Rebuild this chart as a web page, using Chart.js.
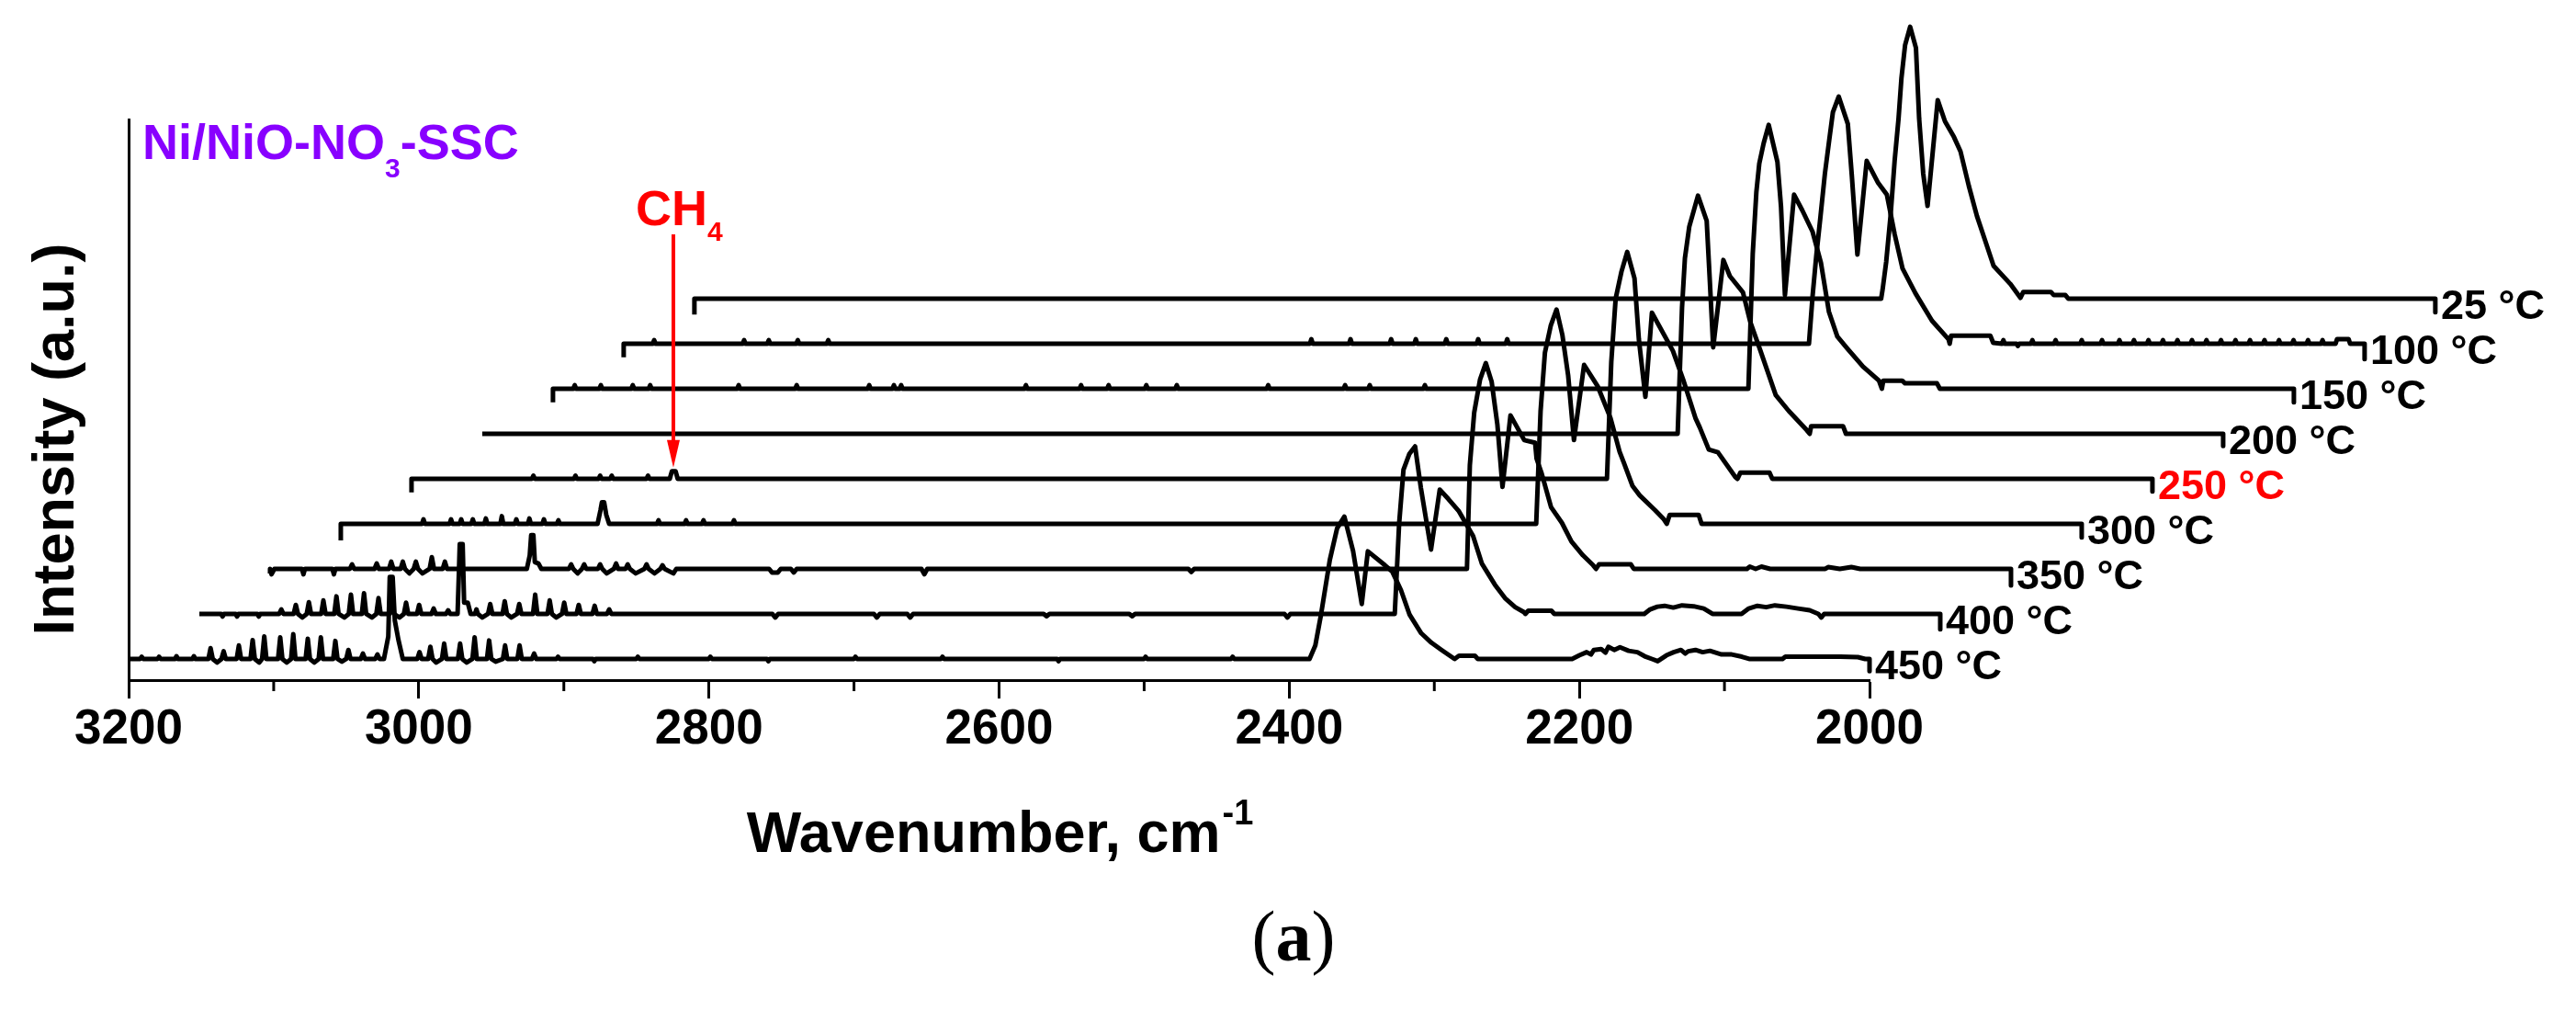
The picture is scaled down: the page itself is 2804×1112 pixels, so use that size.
<!DOCTYPE html>
<html>
<head>
<meta charset="utf-8">
<script src="https://cdn.jsdelivr.net/npm/chart.js@4.4.0/dist/chart.umd.min.js"></script>
<style>
  body { margin: 0; background: #fff; }
  canvas { display: block; }
</style>
</head>
<body>
<canvas id="chart" width="2804" height="1112"></canvas>
<script>
// labels, bottom spectrum first
const temps = ["450 °C", "400 °C", "350 °C", "300 °C", "250 °C", "200 °C", "150 °C", "100 °C", "25 °C"];
const majorTicks = [3200, 3000, 2800, 2600, 2400, 2200, 2000];
const minorTicks = [3100, 2900, 2700, 2500, 2300, 2100];

// stacking offsets of the waterfall (cm-1 and a.u. per step)
const xStep = 48.75;
const yStep = 1;
const ch4Q = 3019.5;

// [wavenumber, intensity]
const spec450 = [
  [3200, 0], [3192, 0], [3191, 0.05], [3190, 0], [3180, 0], [3179, 0.05], [3178, 0], [3168, 0], [3167, 0.06], [3166, 0],
  [3156, 0], [3155, 0.06], [3154, 0], [3145, 0], [3143.5, 0.24], [3142, 0], [3139, -0.08], [3136, 0], [3134.5, 0.17], [3133, 0],
  [3125.5, 0], [3124, 0.3], [3122.5, 0], [3116, 0], [3114.5, 0.42], [3113, 0], [3110, -0.08], [3108, 0], [3106.5, 0.5], [3105, 0],
  [3097, 0], [3095.5, 0.48], [3094, 0], [3091, -0.08], [3088, 0], [3086.5, 0.55], [3085, 0], [3078, 0], [3076.5, 0.45], [3075, 0],
  [3072, -0.08], [3069, 0], [3067.5, 0.48], [3066, 0], [3059, 0], [3057.5, 0.4], [3056, 0], [3053, -0.06], [3050, 0], [3048.5, 0.2],
  [3047, 0], [3040, 0], [3038.5, 0.12], [3037, 0], [3030, 0], [3028.5, 0.1], [3027, 0],
  [3024, 0], [3021, 0.5], [3020, 1.82], [3018, 1.82], [3016.5, 0.85], [3014, 0.42], [3011, 0],
  [3001, 0], [2999.5, 0.15], [2998, 0], [2993.5, 0], [2992, 0.27], [2990.5, 0], [2988, -0.08], [2984, 0], [2982.5, 0.34], [2981, 0],
  [2973, 0], [2971.5, 0.34], [2970, 0], [2967, -0.08], [2963, 0], [2961.5, 0.48], [2960, 0], [2953, 0], [2951.5, 0.41], [2950, 0],
  [2947, -0.06], [2942, 0], [2940.5, 0.3], [2939, 0], [2932, 0], [2930.5, 0.3], [2929, 0], [2922, 0], [2920.5, 0.12], [2919, 0],
  [2905, 0], [2904, 0.05], [2903, 0], [2880, 0], [2879, -0.05], [2878, 0], [2850, 0], [2849, 0.05], [2848, 0],
  [2800, 0], [2799, 0.05], [2798, 0], [2760, 0], [2759, -0.05], [2758, 0], [2700, 0], [2699, 0.05], [2698, 0],
  [2640, 0], [2639, 0.05], [2638, 0], [2560, 0], [2559, -0.05], [2558, 0], [2500, 0], [2499, 0.05], [2498, 0],
  [2440, 0], [2439, 0.05], [2438, 0],
  [2386, 0], [2382, 0.3], [2378, 1.0], [2372, 2.2], [2367, 2.9], [2362, 3.16], [2356, 2.4], [2350, 1.22], [2345.8, 2.39],
  [2334, 2.08], [2329, 1.94], [2323, 1.53], [2317, 0.98], [2309, 0.57], [2302, 0.36], [2295, 0.2], [2286, 0],
  [2283, 0.07], [2272, 0.07], [2270, 0],
  [2205, 0], [2200, 0.08], [2195, 0.15], [2192, 0.1], [2190, 0.2], [2185, 0.22], [2182, 0.14], [2180, 0.27], [2176, 0.2],
  [2172, 0.26], [2166, 0.18], [2160, 0.15], [2155, 0.06], [2150, 0], [2146, -0.05], [2140, 0.08], [2135, 0.15], [2130, 0.2],
  [2127, 0.12], [2125, 0.17], [2120, 0.2], [2115, 0.15], [2110, 0.18], [2102, 0.1], [2095, 0.1], [2088, 0.05], [2083, 0],
  [2060, 0], [2058, 0.05], [2040, 0.05], [2020, 0.05], [2008, 0.04], [2003, 0], [2000, 0], [2000, -0.27]
];

const spec400 = [
  [3200, 0], [3185, 0], [3184, -0.06], [3183, 0], [3175, 0], [3174, -0.06], [3173, 0], [3160, 0], [3159, -0.06], [3158, 0],
  [3145, 0], [3143.5, 0.1], [3142, 0], [3135, 0], [3133.5, 0.2], [3132, 0], [3129, -0.08], [3126, 0], [3124.5, 0.26], [3123, 0],
  [3116, 0], [3114.5, 0.3], [3113, 0], [3107, 0], [3105.5, 0.39], [3104, 0], [3100, -0.08], [3097, 0], [3095.5, 0.43], [3094, 0],
  [3088, 0], [3086.5, 0.46], [3085, 0], [3081, -0.08], [3078, 0], [3076.5, 0.35], [3075, 0], [3069, 0], [3067.5, 0.3], [3066, 0],
  [3062, -0.08], [3059, 0], [3057.5, 0.25], [3056, 0], [3050, 0], [3048.5, 0.2], [3047, 0], [3040, 0], [3038.5, 0.12], [3037, 0],
  [3030, 0], [3028.5, 0.08], [3027, 0],
  [3022, 0], [3021, 1.0], [3020.5, 1.55], [3018.5, 1.55], [3017.5, 0.25], [3015, 0.25], [3013, 0],
  [3010, 0], [3009, 0.1], [3008, 0], [3005, -0.08], [3001, 0], [2999.5, 0.22], [2998, 0], [2991, 0], [2989.5, 0.28], [2988, 0],
  [2985, -0.08], [2981, 0], [2979.5, 0.22], [2978, 0], [2970, 0], [2968.5, 0.43], [2967, 0], [2960, 0], [2958.5, 0.3], [2957, 0],
  [2954, -0.08], [2950, 0], [2948.5, 0.25], [2947, 0], [2940, 0], [2938.5, 0.2], [2937, 0], [2929, 0], [2927.5, 0.18], [2926, 0],
  [2919, 0], [2917.5, 0.1], [2916, 0],
  [2805, 0], [2803, -0.08], [2801, 0], [2735, 0], [2733, -0.08], [2731, 0], [2712, 0], [2710, -0.08], [2708, 0],
  [2618, 0], [2616, -0.05], [2614, 0], [2559, 0], [2557, -0.05], [2555, 0], [2452, 0], [2450, -0.08], [2448, 0],
  [2376, 0], [2373, 2.0], [2370, 3.2], [2366, 3.55], [2362, 3.72], [2358, 2.8], [2351, 1.43], [2345, 2.76], [2339, 2.55],
  [2332, 2.29], [2322, 1.73], [2316, 1.12], [2307, 0.65], [2300, 0.35], [2293, 0.15], [2287, 0.04], [2286, 0],
  [2284, 0.07], [2268, 0.07], [2266, 0],
  [2204, 0], [2200, 0.1], [2195, 0.16], [2190, 0.18], [2184, 0.14], [2178, 0.19], [2170, 0.17], [2163, 0.12], [2157, 0],
  [2137, 0], [2132, 0.12], [2126, 0.18], [2120, 0.15], [2114, 0.19], [2106, 0.16], [2098, 0.12], [2090, 0.08], [2084, 0],
  [2082, -0.08], [2080, 0], [2000, 0], [2000, -0.34]
];

const spec350 = [
  [3200, -0.1], [3200, 0], [3199, -0.12], [3197, 0], [3178, 0], [3177, -0.12], [3176, 0], [3157, 0], [3156, -0.12], [3155, 0],
  [3145, 0], [3143.5, 0.1], [3142, 0], [3128, 0], [3126.5, 0.12], [3125, 0], [3118, 0], [3116.5, 0.16], [3115, 0],
  [3110, 0], [3108.5, 0.16], [3107, 0], [3104, -0.1], [3101, 0], [3099.5, 0.16], [3098, 0], [3095, -0.1], [3090, 0],
  [3088.5, 0.26], [3087, 0], [3081, 0], [3079.5, 0.16], [3078, 0],
  [3023, 0], [3021, 0.3], [3020, 0.75], [3018.5, 0.75], [3017.5, 0.15], [3015, 0.12], [3013, 0],
  [2994, 0], [2992.5, 0.1], [2991, 0], [2988, -0.1], [2985, 0], [2983.5, 0.1], [2982, 0], [2974, 0], [2972.5, 0.1], [2971, 0],
  [2968, -0.1], [2963, 0], [2961.5, 0.12], [2960, 0], [2955, 0], [2953.5, 0.1], [2952, 0], [2948, -0.1], [2942, 0],
  [2940.5, 0.1], [2939, 0], [2935, -0.1], [2931, 0], [2929.5, 0.08], [2928, 0], [2922, -0.1], [2920, 0],
  [2856, 0], [2854, -0.08], [2850, -0.08], [2848, 0], [2841, 0], [2839, -0.08], [2837, 0],
  [2751, 0], [2749, -0.12], [2747, 0], [2567, 0], [2565, -0.07], [2563, 0],
  [2375, 0], [2373, 2.3], [2370, 3.47], [2366, 4.2], [2362, 4.57], [2358, 4.16], [2354, 3.2], [2350.5, 1.82], [2345, 3.41],
  [2335.5, 2.86], [2328, 2.8], [2327, 2.45], [2323.5, 2.12], [2317, 1.37], [2309.5, 1.02], [2303, 0.61], [2295, 0.3],
  [2288, 0.08], [2286, 0], [2284, 0.1], [2262, 0.1], [2260, 0],
  [2182, 0], [2180, 0.05], [2176, 0], [2172, 0.05], [2166, 0], [2128, 0], [2126, 0.04], [2118, 0], [2110, 0.04], [2104, 0],
  [2000, 0], [2000, -0.37]
];

const spec300 = [
  [3200, -0.37], [3200, 0], [3144, 0], [3143, 0.1], [3142, 0], [3125, 0], [3124, 0.1], [3123, 0], [3118, 0], [3117, 0.1], [3116, 0],
  [3110, 0], [3109, 0.1], [3108, 0], [3101, 0], [3100, 0.12], [3099, 0], [3090, 0], [3089, 0.17], [3088, 0],
  [3080, 0], [3079, 0.1], [3078, 0], [3071, 0], [3070, 0.12], [3069, 0], [3061, 0], [3060, 0.1], [3059, 0], [3051, 0], [3050, 0.08], [3049, 0],
  [3023, 0], [3021, 0.3], [3020, 0.48], [3018.5, 0.48], [3017, 0.2], [3015, 0],
  [2982, 0], [2981, 0.08], [2980, 0], [2963, 0], [2962, 0.08], [2961, 0], [2951, 0], [2950, 0.08], [2949, 0],
  [2930, 0], [2929, 0.08], [2928, 0],
  [2376, 0], [2373, 2.5], [2370, 3.8], [2366, 4.4], [2362, 4.76], [2358, 4.2], [2354, 3.3], [2350, 1.86], [2343, 3.53],
  [2333.7, 3.06], [2324.8, 2.35], [2318.5, 1.6], [2315.5, 1.35], [2309.6, 0.84], [2304.6, 0.63], [2294, 0.3], [2288, 0.1],
  [2286, 0], [2284, 0.2], [2264, 0.2], [2262, 0],
  [2000, 0], [2000, -0.3]
];

const spec250 = [
  [3200, -0.3], [3200, 0], [3117, 0], [3116, 0.07], [3115, 0], [3088, 0], [3087, 0.07], [3086, 0], [3071, 0], [3070, 0.07], [3069, 0],
  [3063, 0], [3062, 0.07], [3061, 0], [3038, 0], [3037, 0.07], [3036, 0],
  [3022, 0], [3020.5, 0.17], [3018, 0.17], [3016.5, 0],
  [2376, 0], [2373, 2.6], [2370, 4.0], [2366, 4.6], [2362, 5.04], [2357, 4.45], [2354, 3.1], [2349.5, 1.82], [2345, 3.69],
  [2330.5, 2.84], [2323, 2.16], [2315, 1.35], [2312, 1.14], [2305.8, 0.65], [2299.5, 0.59], [2287.5, 0.04], [2286, 0],
  [2284, 0.14], [2264, 0.14], [2262, 0],
  [2000, 0], [2000, -0.28]
];

const spec200 = [
  [3200, 0],
  [2376, 0], [2373, 2.8], [2371, 3.9], [2368, 4.6], [2362, 5.29], [2356, 4.73], [2354, 3.5], [2351.5, 1.92], [2344.5, 3.86],
  [2340, 3.5], [2331, 3.14], [2326, 2.49], [2319, 1.85], [2308.4, 0.86], [2299.5, 0.51], [2287, 0.08], [2285, 0],
  [2284, 0.17], [2262, 0.17], [2260, 0],
  [2000, 0], [2000, -0.27]
];

const spec150 = [
  [3200, -0.3], [3200, 0], [3186, 0], [3185, 0.08], [3184, 0], [3168, 0], [3167, 0.08], [3166, 0], [3146, 0], [3145, 0.08], [3144, 0],
  [3134, 0], [3133, 0.08], [3132, 0], [3073, 0], [3072, 0.08], [3071, 0], [3033, 0], [3032, 0.08], [3031, 0],
  [2983, 0], [2982, 0.08], [2981, 0], [2966, 0], [2965, 0.08], [2964, 0], [2961, 0], [2960, 0.08], [2959, 0],
  [2875, 0], [2874, 0.08], [2873, 0], [2837, 0], [2836, 0.08], [2835, 0], [2818, 0], [2817, 0.08], [2816, 0],
  [2792, 0], [2791, 0.08], [2790, 0], [2771, 0], [2770, 0.08], [2769, 0], [2708, 0], [2707, 0.08], [2706, 0],
  [2655, 0], [2654, 0.08], [2653, 0], [2638, 0], [2637, 0.08], [2636, 0], [2600, 0], [2599, 0.08], [2598, 0],
  [2376, 0], [2373, 3.0], [2370.5, 4.37], [2368.5, 5.0], [2365.5, 5.45], [2362, 5.86], [2356, 5.04], [2353.5, 4.04],
  [2350.8, 2.08], [2344.5, 4.31], [2338.8, 3.96], [2331.8, 3.49], [2326, 2.8], [2320.5, 1.71], [2314.7, 1.16], [2308, 0.9],
  [2297, 0.49], [2286, 0.18], [2284, 0],
  [2283, 0.18], [2270, 0.18], [2268, 0.12], [2246, 0.12], [2244, 0],
  [2000, 0], [2000, -0.3]
];

const spec100 = [
  [3200, -0.3], [3200, 0], [3180, 0], [3179, 0.08], [3178, 0], [3118, 0], [3117, 0.08], [3116, 0], [3101, 0], [3100, 0.08], [3099, 0],
  [3081, 0], [3080, 0.08], [3079, 0], [3060, 0], [3059, 0.08], [3058, 0],
  [2727, 0], [2726, 0.1], [2725, 0], [2700, 0], [2699, 0.1], [2698, 0], [2672, 0], [2671, 0.1], [2670, 0],
  [2655, 0], [2654, 0.1], [2653, 0], [2634, 0], [2633, 0.1], [2632, 0], [2612, 0], [2611, 0.1], [2610, 0], [2592, 0], [2591, 0.1], [2590, 0],
  [2383, 0], [2380.5, 1.06], [2378, 1.94], [2375, 2.84], [2372, 3.78], [2369, 4.53], [2366.5, 5.14], [2362.5, 5.49],
  [2356.2, 4.88], [2353.4, 3.71], [2349.6, 1.98], [2343.2, 4.06], [2335.3, 3.57], [2329.3, 3.31], [2323.9, 2.43],
  [2318.5, 1.67], [2309.6, 1.12], [2298.2, 0.51], [2286.8, 0.1], [2286, 0],
  [2285, 0.18], [2258, 0.18], [2256, 0.02], [2250, 0], [2249, 0.08], [2248, 0], [2240, 0], [2239, -0.05], [2238, 0],
  [2230, 0], [2229, 0.08], [2228, 0], [2214, 0], [2213, 0.08], [2212, 0], [2196, 0], [2195, 0.08], [2194, 0],
  [2182, 0], [2181, 0.08], [2180, 0], [2170, 0], [2169, 0.08], [2168, 0], [2160, 0], [2159, 0.08], [2158, 0],
  [2150, 0], [2149, 0.08], [2148, 0], [2140, 0], [2139, 0.08], [2138, 0], [2130, 0], [2129, 0.08], [2128, 0],
  [2120, 0], [2119, 0.08], [2118, 0], [2110, 0], [2109, 0.08], [2108, 0], [2100, 0], [2099, 0.08], [2098, 0],
  [2090, 0], [2089, 0.08], [2088, 0], [2080, 0], [2079, 0.08], [2078, 0], [2070, 0], [2069, 0.08], [2068, 0],
  [2060, 0], [2059, 0.08], [2058, 0], [2050, 0], [2049, 0.08], [2048, 0], [2040, 0], [2039, 0.08], [2038, 0],
  [2030, 0], [2029, 0.08], [2028, 0], [2020, 0], [2019, 0.1], [2011, 0.1], [2010, 0],
  [2000, 0], [2000, -0.34]
];

const spec25 = [
  [3200, -0.35], [3200, 0],
  [2382, 0], [2381, 0.2], [2378.5, 0.82], [2375.5, 1.84], [2372.7, 3.06], [2370, 4.0], [2368, 4.9], [2365.5, 5.63], [2362, 6.04],
  [2358, 5.57], [2355.8, 4.0], [2353, 2.78], [2350, 2.06], [2343, 4.41], [2338, 3.94], [2331.8, 3.59], [2327.3, 3.27],
  [2321.6, 2.51], [2316, 1.84], [2310.3, 1.29], [2304.5, 0.73], [2293, 0.33], [2286, 0.02],
  [2284, 0.15], [2265, 0.15], [2263, 0.08], [2255, 0.08], [2253, 0],
  [2000, 0], [2000, -0.3]
];

const spectra = [spec450, spec400, spec350, spec300, spec250, spec200, spec150, spec100, spec25];

const FONT = '"Liberation Sans", Arial, sans-serif';

const datasets = spectra.map(function (s, k) {
  return {
    label: temps[k],
    data: s.map(function (p) {
      return { x: p[0] - k * xStep, y: p[1] + k * yStep };
    }),
    borderColor: "#000",
    borderWidth: 5,
    borderJoinStyle: "round",
    pointRadius: 0,
    tension: 0,
    fill: false,
    clip: false,
  };
});

const decor = {
  id: "decor",
  afterDraw(chart) {
    const ctx = chart.ctx;
    const x = chart.scales.x;
    const y = chart.scales.y;
    ctx.save();

    // minor ticks
    ctx.strokeStyle = "#000";
    ctx.lineWidth = 3;
    minorTicks.forEach(function (v) {
      const px = x.getPixelForValue(v);
      ctx.beginPath();
      ctx.moveTo(px, y.bottom);
      ctx.lineTo(px, y.bottom + 12);
      ctx.stroke();
    });

    // temperature labels at the end of each trace
    ctx.font = "bold 45px " + FONT;
    ctx.textAlign = "left";
    ctx.textBaseline = "middle";
    spectra.forEach(function (s, k) {
      const last = s[s.length - 1];
      const px = x.getPixelForValue(last[0] - k * xStep) + 6;
      const py = y.getPixelForValue(k * yStep) + 10;
      ctx.fillStyle = temps[k] === "250 °C" ? "#ff0000" : "#000";
      ctx.fillText(temps[k], px, py);
    });

    // y title
    ctx.save();
    ctx.translate(80, 478);
    ctx.rotate(-Math.PI / 2);
    ctx.textAlign = "center";
    ctx.textBaseline = "alphabetic";
    ctx.fillStyle = "#000";
    ctx.font = "bold 63px " + FONT;
    ctx.fillText("Intensity (a.u.)", 0, 0);
    ctx.restore();

    // x title with superscript
    ctx.textBaseline = "alphabetic";
    ctx.fillStyle = "#000";
    ctx.font = "bold 63px " + FONT;
    const t1 = "Wavenumber, cm";
    const w1 = ctx.measureText(t1).width;
    ctx.font = "bold 38px " + FONT;
    const w2 = ctx.measureText("-1").width;
    const cx = (x.left + x.right) / 2;
    const sx = cx - (w1 + w2) / 2;
    ctx.font = "bold 63px " + FONT;
    ctx.fillText(t1, sx, 927);
    ctx.font = "bold 38px " + FONT;
    ctx.fillText("-1", sx + w1 + 2, 897);

    // (a)
    ctx.font = '78px "Liberation Serif", "Times New Roman", serif';
    const wp = ctx.measureText("(").width;
    ctx.font = 'bold 78px "Liberation Serif", "Times New Roman", serif';
    const wa = ctx.measureText("a").width;
    let ax = 1408 - (2 * wp + wa) / 2;
    ctx.font = '78px "Liberation Serif", "Times New Roman", serif';
    ctx.fillText("(", ax, 1045);
    ctx.font = 'bold 78px "Liberation Serif", "Times New Roman", serif';
    ctx.fillText("a", ax + wp, 1045);
    ctx.font = '78px "Liberation Serif", "Times New Roman", serif';
    ctx.fillText(")", ax + wp + wa, 1045);

    // sample name
    ctx.fillStyle = "#8800ff";
    ctx.font = "bold 54px " + FONT;
    let tx = 155;
    ctx.fillText("Ni/NiO-NO", tx, 173);
    tx += ctx.measureText("Ni/NiO-NO").width;
    ctx.font = "bold 30px " + FONT;
    ctx.fillText("3", tx, 193);
    tx += ctx.measureText("3").width;
    ctx.font = "bold 54px " + FONT;
    ctx.fillText("-SSC", tx, 173);

    // CH4 marker
    ctx.fillStyle = "#ff0000";
    ctx.strokeStyle = "#ff0000";
    ctx.font = "bold 54px " + FONT;
    ctx.fillText("CH", 692, 245);
    const wch = ctx.measureText("CH").width;
    ctx.font = "bold 30px " + FONT;
    ctx.fillText("4", 692 + wch, 262);

    const arrowX = x.getPixelForValue(ch4Q - 4 * xStep);
    const tipY = y.getPixelForValue(4 * yStep + 0.17) - 4;
    ctx.lineWidth = 4;
    ctx.beginPath();
    ctx.moveTo(arrowX, 255);
    ctx.lineTo(arrowX, tipY - 24);
    ctx.stroke();
    ctx.beginPath();
    ctx.moveTo(arrowX - 7, tipY - 30);
    ctx.lineTo(arrowX + 7, tipY - 30);
    ctx.lineTo(arrowX, tipY);
    ctx.closePath();
    ctx.fill();

    ctx.restore();
  },
};

new Chart(document.getElementById("chart"), {
  type: "line",
  data: { datasets: datasets },
  options: {
    responsive: false,
    devicePixelRatio: 1,
    animation: false,
    layout: { padding: { left: 0, top: 130, right: 769, bottom: 0 } },
    plugins: { legend: { display: false }, tooltip: { enabled: false } },
    scales: {
      x: {
        type: "linear",
        reverse: true,
        min: 2000,
        max: 3200,
        afterFit: function (scale) { scale.height = 372; },
        afterBuildTicks: function (scale) {
          scale.ticks = majorTicks.map(function (v) { return { value: v }; });
        },
        ticks: {
          autoSkip: false,
          maxRotation: 0,
          padding: 3,
          color: "#000",
          font: { family: FONT, size: 53, weight: "bold" },
          callback: function (v) { return v; },
        },
        grid: {
          display: true,
          drawOnChartArea: false,
          drawTicks: true,
          tickLength: 20,
          tickWidth: 3,
          tickColor: "#000",
        },
        border: { display: true, color: "#000", width: 3 },
      },
      y: {
        type: "linear",
        min: -0.47,
        max: 11.98,
        afterFit: function (scale) { scale.width = 140; },
        ticks: { display: false },
        grid: { display: false },
        border: { display: true, color: "#000", width: 3 },
      },
    },
  },
  plugins: [decor],
});
</script>
</body>
</html>
